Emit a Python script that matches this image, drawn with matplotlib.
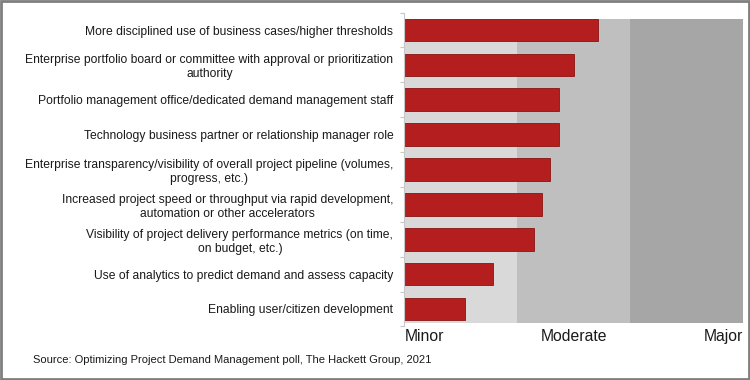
import matplotlib.pyplot as plt
from matplotlib.patches import Rectangle

plt.rcParams["font.family"] = ["Liberation Sans", "DejaVu Sans"]

# survey items, top to bottom
categories = [
    "More disciplined use of business cases/higher thresholds",
    "Enterprise portfolio board or committee with approval or prioritization\nauthority",
    "Portfolio management office/dedicated demand management staff",
    "Technology business partner or relationship manager role",
    "Enterprise transparency/visibility of overall project pipeline (volumes,\nprogress, etc.)",
    "Increased project speed or throughput via rapid development,\nautomation or other accelerators",
    "Visibility of project delivery performance metrics (on time,\non budget, etc.)",
    "Use of analytics to predict demand and assess capacity",
    "Enabling user/citizen development",
]
# impact score, 1 = minor, 2 = moderate, 3 = major
impact = [2.14, 2.00, 1.91, 1.91, 1.86, 1.81, 1.765, 1.52, 1.36]

scale_ticks = [1, 2, 3]
scale_labels = ["Minor", "Moderate", "Major"]
band_edges = [1, 5 / 3, 7 / 3, 3]
band_colors = ["#d9d9d9", "#bfbfbf", "#a6a6a6"]

fig = plt.figure(figsize=(7.5, 3.8), dpi=100)
ax = fig.add_axes([0.5393, 0.1411, 0.4517, 0.8257])

# background bands
for x0, x1, c in zip(band_edges[:-1], band_edges[1:], band_colors):
    ax.axvspan(x0, x1, ymin=0.012, ymax=0.98, color=c, lw=0, zorder=0)

y = list(range(len(categories)))
ax.barh(y, [v - 1 for v in impact], left=1, height=0.65,
        color="#b41e1e", edgecolor="#8a1414", linewidth=0.6, zorder=2)

ax.set_xlim(1, 3)
ax.set_ylim(8.5, -0.5)

# y axis: labels at bar centres, small ticks between categories
ax.set_yticks(y)
ax.set_yticklabels(categories, fontsize=8.75, color="#1a1a1a")
for lbl in ax.get_yticklabels():
    lbl.set_multialignment("center")
ax.tick_params(axis="y", which="major", length=0, pad=8)
ax.set_yticks([i - 0.5 for i in range(len(categories) + 1)], minor=True)
ax.tick_params(axis="y", which="minor", length=3, color="#c8c8c8", width=0.8)

ax.set_xticks(scale_ticks)
ax.set_xticklabels(scale_labels, fontsize=11.3, color="#1a1a1a")
ax.tick_params(axis="x", length=0, pad=2)
for lbl, ha in zip(ax.get_xticklabels(), ["left", "center", "right"]):
    lbl.set_horizontalalignment(ha)

for side in ["top", "right", "bottom"]:
    ax.spines[side].set_visible(False)
ax.spines["left"].set_color("#c8c8c8")
ax.spines["left"].set_linewidth(0.8)

fig.text(0.044, 0.053, "Source: Optimizing Project Demand Management poll, The Hackett Group, 2021",
         fontsize=8.02, color="#1a1a1a", va="center")

# grey frame around the image
fig.patches.append(Rectangle((0.0015, 0.003), 0.997, 0.994, transform=fig.transFigure,
                             fill=False, edgecolor="#7f7f7f", linewidth=2))

fig.savefig("out.png", dpi=100)
